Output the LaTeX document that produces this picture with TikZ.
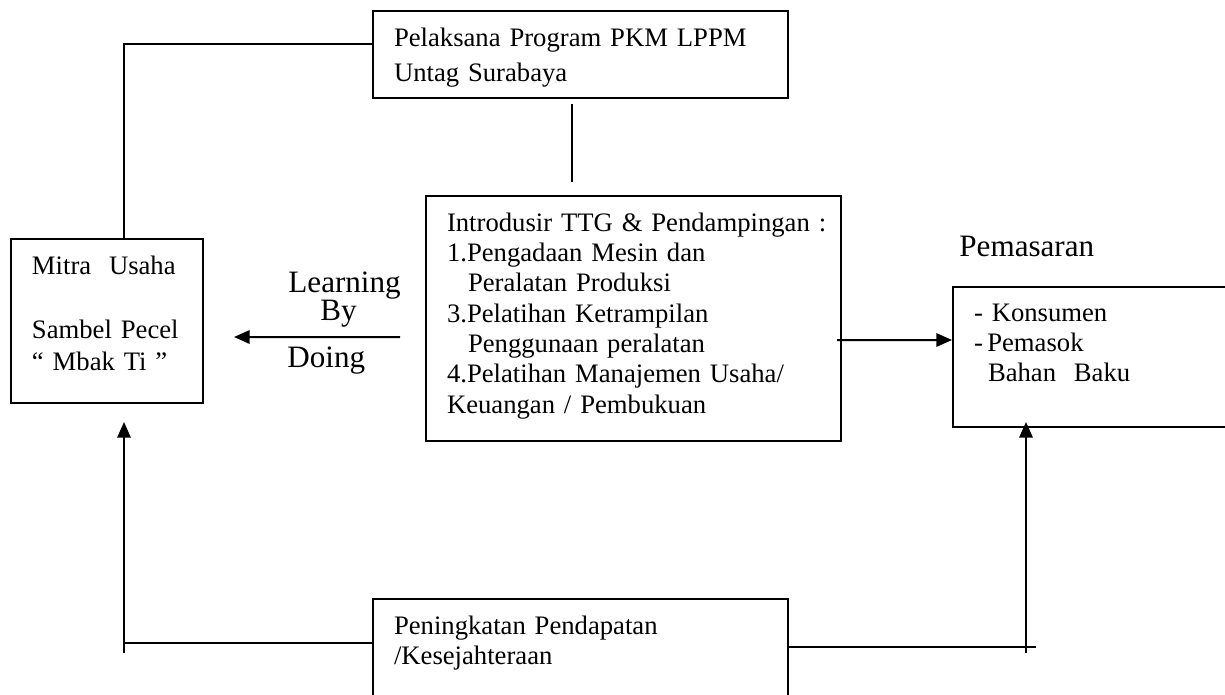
\documentclass[tikz,border=0pt]{standalone}
\usepackage{fontspec}
\setmainfont{Liberation Serif}
\usetikzlibrary{arrows.meta, positioning, calc}

\begin{document}
\begin{tikzpicture}[
  x=0.45pt, y=-0.45pt,
  box/.style={
    rectangle, draw=black, line width=0.9pt,
    anchor=north west, align=left,
    inner xsep=9.45pt, inner ysep=0pt,
    text height=15.75pt,
    font=\fontsize{12}{13.65}\selectfont
  },
  biglabel/.style={
    inner sep=0pt, anchor=base west,
    font=\fontsize{14}{16}\selectfont
  },
  arrow/.style={-{Triangle[length=7pt,width=6pt]}, line width=0.9pt},
  link/.style={line width=0.9pt}
]
\useasboundingbox (0,0) rectangle (1225,695);

% ── Boxes ──
\node[box, text width=167.85pt, minimum height=39.15pt, text depth=23.4pt,
  font=\fontsize{12}{15.75}\selectfont] (pkm) at (372,10)
  {\mbox{Pelaksana Program PKM LPPM}\\Untag Surabaya};

\node[box, text width=67.5pt, minimum height=73.8pt, text depth=58.05pt,
  font=\fontsize{12}{14.4}\selectfont] (mitra) at (10,238)
  {Mitra\ \ Usaha\\[14.4pt]\mbox{Sambel Pecel}\\“ Mbak Ti ”};

\node[box, text width=167.85pt, minimum height=110.25pt, text depth=94.5pt] (ttg) at (425,195)
  {\mbox{Introdusir TTG \& Pendampingan :}\\
   1.Pengadaan Mesin dan\\
   \hspace*{9.45pt}Peralatan Produksi\\
   3.Pelatihan Ketrampilan\\
   \hspace*{9.45pt}Penggunaan peralatan\\
   \mbox{4.Pelatihan Manajemen Usaha/}\\
   Keuangan / Pembukuan};

\node[box, text width=110.7pt, minimum height=63pt, text height=15.3pt, text depth=47.7pt] (pasar) at (952,286)
  {- Konsumen\\-\,Pemasok\\\hspace*{6.3pt}Bahan\ \ Baku};

\node[box, text width=167.85pt, minimum height=45pt, text depth=29.25pt] (income) at (372,598)
  {Peningkatan Pendapatan\\/Kesejahteraan};

% ── Labels ──
\node[biglabel] (learning) at (288,292) {Learning};
\node[biglabel] (by) at (320,320) {By};
\node[biglabel] (doing) at (287,367) {Doing};
\node[biglabel] (pemasaran) at (959,256) {Pemasaran};

% ── Top links ──
\draw[link] ($(pkm.west)+(0,-10.5)$) -| ($(mitra.north)+(17,0)$);
\draw[link] ($(pkm.south)+(-8.5,5)$) -- ($(ttg.north)+(-61.5,-13)$);

% ── Learning by doing / Pemasaran ──
\draw[arrow] ($(ttg.west)+(-25,18.5)$) -- ($(mitra.east)+(30,16)$);
\draw[arrow] ($(ttg.east)+(-5,21.5)$) -- ($(pasar.west)+(0,-17)$);

% ── Feedback from income ──
\coordinate (lrow) at ($(income.west)+(0,-6)$);
\coordinate (lfoot) at ($(mitra.south)+(17,249)$);
\draw[link] (lrow) -- (lrow -| lfoot);
\draw[arrow] (lfoot) -- ($(mitra.south)+(17,18)$);

\coordinate (rrow) at ($(income.east)+(0,-2)$);
\coordinate (rfoot) at ($(pasar.south west)+(74,225)$);
\draw[link] (rrow) -- ++(247,0);
\draw[arrow] (rfoot) -- ($(pasar.south west)+(74,-6)$);

\end{tikzpicture}
\end{document}
